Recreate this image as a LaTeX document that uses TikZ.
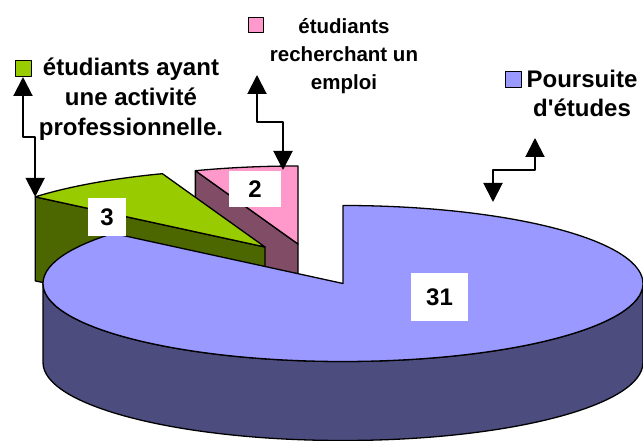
\documentclass[tikz,border=0pt]{standalone}
\usepackage{fontspec}
\setmainfont{Liberation Sans}[Ligatures=TeXOff]
\usetikzlibrary{arrows.meta}
\definecolor{bluetop}{RGB}{153,153,255}
\definecolor{blueside}{RGB}{76,76,127}
\definecolor{greentop}{RGB}{153,204,0}
\definecolor{greenside}{RGB}{76,102,0}
\definecolor{pinktop}{RGB}{255,153,204}
\definecolor{pinkside}{RGB}{128,76,102}
\begin{document}
\begin{tikzpicture}[x=1pt,y=1pt,line join=round,
		edge/.style={draw=black,line width=1.3pt},
		leg/.style={line width=2pt,{Triangle[width=19pt,length=19pt]}-{Triangle[width=19pt,length=19pt]}},
		key/.style={draw=black,line width=1pt,minimum size=16pt,inner sep=0pt},
		num/.style={fill=white,inner sep=0pt,font=\fontsize{24}{24}\selectfont\bfseries},
		legtext/.style={align=center,anchor=base}]
	\useasboundingbox (0,0) rectangle (643,441);
	\coordinate (O) at (343,157.5);
	\coordinate (G) at (265,194);
	\coordinate (K) at (298,197);
	\draw[edge,fill=pinkside] (K) -- ++(110:300 and 78) -- ++(0,-80) -- (298,117) -- cycle;
	\draw[edge,fill=pinktop] (K) -- ++(90:300 and 78) coordinate (pt) arc[start angle=90,end angle=110,x radius=300,y radius=78] -- cycle;
	\draw[edge,fill=greenside] (G) -- ++(140:300 and 78) coordinate (gl) -- ++(0,-84) -- (265,110) -- cycle;
	\draw[edge,fill=greentop] (G) -- ++(110:300 and 78) arc[start angle=110,end angle=140,x radius=300,y radius=78] -- cycle;
	\draw[edge,fill=blueside] (43,157.5) -- (43,78.5) arc[start angle=180,end angle=360,x radius=300,y radius=78] -- (643,157.5) arc[start angle=0,end angle=-180,x radius=300,y radius=78] -- cycle;
	\draw[edge,fill=bluetop] (O) -- ++(140:300 and 78) arc[start angle=140,end angle=450,x radius=300,y radius=78] -- cycle;
	\node[num,minimum width=38pt,minimum height=38pt] (n3) at (107,224) {3};
	\node[num,minimum width=52pt,minimum height=36pt] (n2) at (255,252) {2};
	\node[num,minimum width=57pt,minimum height=48pt] (n31) at (439.5,144) {31};
	\node[key,fill=greentop] (gkey) at (23,372.5) {};
	\node[key,fill=pinktop,minimum size=15pt] (pkey) at (255.5,415.5) {};
	\node[key,fill=bluetop] (bkey) at (513.5,361.5) {};
	\node[legtext,font=\fontsize{24}{30}\selectfont\bfseries] (gtext) at (131,305) {étudiants ayant\\une activité\\professionnelle.};
	\node[legtext,font=\fontsize{20.5}{28}\selectfont\bfseries] (ptext) at (344,351) {étudiants\\recherchant un\\emploi};
	\node[legtext,font=\fontsize{24}{29}\selectfont\bfseries] (btext) at (582,324) {Poursuite\\d'études};
	\coordinate (ptop) at (257,366);
	\coordinate (pbot) at (283,271);
	\coordinate (btop) at (535,303);
	\coordinate (bbot) at (493,239);
	\draw[leg] (gkey.south) -- ++(0,-60) -| (gl);
	\draw[leg] (ptop) -- ++(0,-47) -| (pbot);
	\draw[leg] (btop) -- ++(0,-32) -| (bbot);
\end{tikzpicture}
\end{document}
